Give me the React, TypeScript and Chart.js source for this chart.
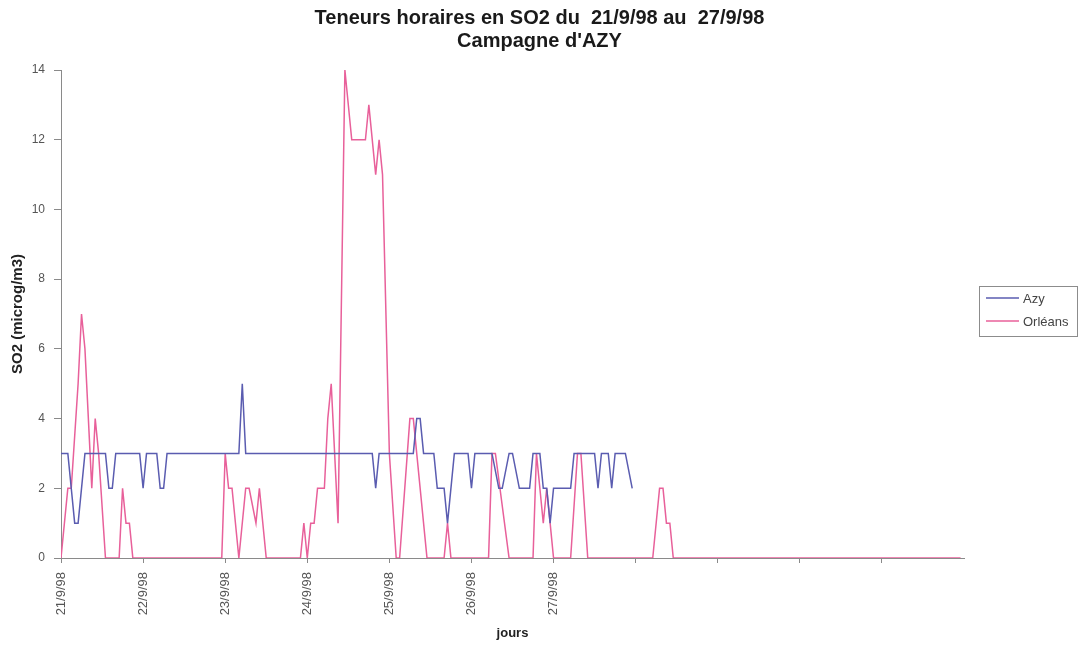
import React, { useEffect, useRef } from 'react';
import { Chart, registerables } from 'chart.js';

Chart.register(...registerables);

const FONT = '"Liberation Sans", Arial, Helvetica, sans-serif';

const titleLines = ['Teneurs horaires en SO2 du  21/9/98 au  27/9/98', "Campagne d'AZY"];
const yAxisTitle = 'SO2 (microg/m3)';
const xAxisTitle = 'jours';

// hours since 21/9/98 00h where each day tick sits
const dayTickHours = [0, 24, 48, 72, 96, 120, 144, 168, 192, 216, 240];
const dayLabels = ['21/9/98', '22/9/98', '23/9/98', '24/9/98', '25/9/98', '26/9/98', '27/9/98', '', '', '', ''];
const yTickValues = [0, 2, 4, 6, 8, 10, 12, 14];

// Azy series: hour index and value (microg/m3) at each vertex of the hourly record
const azyHours = [0, 2, 3, 4, 5, 7, 13, 14, 15, 16, 23, 24, 25, 28, 29, 30, 31, 52, 53, 54, 91, 92, 93, 103, 104, 105, 106, 109, 110, 112, 113, 115, 119, 120, 121, 126, 128, 129, 131, 132, 134, 137, 138, 140, 141, 142, 143, 144, 149, 150, 156, 157, 158, 160, 161, 162, 165, 167];
const azyValues = [3, 3, 2, 1, 1, 3, 3, 2, 2, 3, 3, 2, 3, 3, 2, 2, 3, 3, 5, 3, 3, 2, 3, 3, 4, 4, 3, 3, 2, 2, 1, 3, 3, 2, 3, 3, 2, 2, 3, 3, 2, 2, 3, 3, 2, 2, 1, 2, 2, 3, 3, 2, 3, 3, 2, 3, 3, 2];

// Orléans series
const orleansHours = [0, 2, 3, 5, 6, 7, 9, 10, 11, 13, 17, 18, 19, 20, 21, 47, 48, 49, 50, 52, 54, 55, 57, 58, 60, 70, 71, 72, 73, 74, 75, 77, 78, 79, 81, 83, 85, 89, 90, 92, 93, 94, 96, 98, 99, 102, 103, 107, 112, 113, 114, 125, 126, 127, 131, 138, 139, 140, 141, 142, 143, 144, 149, 151, 152, 154, 173, 175, 176, 177, 178, 179, 263];
const orleansValues = [0, 2, 2, 5, 7, 6, 2, 4, 3, 0, 0, 2, 1, 1, 0, 0, 3, 2, 2, 0, 2, 2, 1, 2, 0, 0, 1, 0, 1, 1, 2, 2, 4, 5, 1, 14, 12, 12, 13, 11, 12, 11, 3, 0, 0, 4, 4, 0, 0, 1, 0, 0, 3, 3, 0, 0, 3, 2, 1, 2, 1, 0, 0, 3, 3, 0, 0, 2, 2, 1, 1, 0, 0];

const seriesNames = ['Azy', 'Orléans'];
const seriesColors = ['#5a5cb0', '#e8609a'];

const toPoints = (xs: number[], ys: number[]) => xs.map((x, i) => ({ x, y: ys[i] }));

const legendBoxPlugin = {
  id: 'legendBox',
  afterDraw(chart: any) {
    const { ctx, chartArea } = chart;
    const w = 98;
    const h = 50;
    const x = Math.round(chartArea.right + 15);
    const y = Math.round((chartArea.top + chartArea.bottom) / 2 - h / 2 - 3);
    ctx.save();
    ctx.strokeStyle = '#8c8c8c';
    ctx.lineWidth = 1;
    ctx.strokeRect(x + 0.5, y + 0.5, w, h);
    chart.data.datasets.forEach((ds: any, i: number) => {
      const ly = y + 12 + i * 23;
      ctx.strokeStyle = ds.borderColor;
      ctx.lineWidth = 1.5;
      ctx.beginPath();
      ctx.moveTo(x + 7, ly);
      ctx.lineTo(x + 40, ly);
      ctx.stroke();
      ctx.fillStyle = '#444';
      ctx.font = '13px ' + FONT;
      ctx.textBaseline = 'middle';
      ctx.textAlign = 'left';
      ctx.fillText(ds.label, x + 44, ly + 1);
    });
    ctx.restore();
  },
};

export default function App() {
  const canvasRef = useRef<HTMLCanvasElement | null>(null);

  useEffect(() => {
    if (!canvasRef.current) return;
    const chart = new Chart(canvasRef.current, {
      type: 'line',
      data: {
        datasets: [
          {
            label: seriesNames[0],
            data: toPoints(azyHours, azyValues),
            borderColor: seriesColors[0],
            backgroundColor: seriesColors[0],
            borderWidth: 1.5,
            pointRadius: 0,
            tension: 0,
            fill: false,
          },
          {
            label: seriesNames[1],
            data: toPoints(orleansHours, orleansValues),
            borderColor: seriesColors[1],
            backgroundColor: seriesColors[1],
            borderWidth: 1.5,
            pointRadius: 0,
            tension: 0,
            fill: false,
          },
        ],
      },
      options: {
        responsive: false,
        animation: false,
        devicePixelRatio: 1,
        layout: { padding: 0 },
        plugins: {
          legend: { display: false },
          tooltip: { enabled: false },
          title: {
            display: true,
            text: titleLines,
            color: '#1a1a1a',
            font: { family: FONT, size: 20, weight: 'bold', lineHeight: 23 / 20 },
            padding: { top: 7, bottom: 17 },
          },
        },
        scales: {
          x: {
            type: 'linear',
            min: 0,
            max: 264,
            afterBuildTicks: (scale: any) => {
              scale.ticks = dayTickHours.map((v) => ({ value: v }));
            },
            afterFit: (scale: any) => {
              scale.height = 90;
            },
            grid: { display: true, drawOnChartArea: false, drawTicks: true, tickLength: 5, color: '#8a8a8a' },
            border: { display: true, color: '#8a8a8a' },
            ticks: {
              autoSkip: false,
              minRotation: 90,
              maxRotation: 90,
              padding: 9,
              color: '#555',
              font: { family: FONT, size: 13 },
              callback: (_v: any, i: number) => dayLabels[i] ?? '',
            },
            title: {
              display: true,
              text: xAxisTitle,
              color: '#222',
              font: { family: FONT, size: 13, weight: 'bold' },
              padding: { top: 0, bottom: 7 },
            },
          },
          y: {
            type: 'linear',
            min: 0,
            max: 14,
            afterBuildTicks: (scale: any) => {
              scale.ticks = yTickValues.map((v) => ({ value: v }));
            },
            afterFit: (scale: any) => {
              scale.width = 61;
            },
            grid: { display: true, drawOnChartArea: false, drawTicks: true, tickLength: 7, color: '#8a8a8a' },
            border: { display: true, color: '#8a8a8a' },
            ticks: {
              padding: 9,
              color: '#555',
              font: { family: FONT, size: 12 },
            },
            title: {
              display: true,
              text: yAxisTitle,
              color: '#222',
              font: { family: FONT, size: 15, weight: 'bold' },
              padding: { top: 9, bottom: 0 },
            },
          },
          legendSpace: {
            type: 'linear',
            position: 'right',
            display: true,
            grid: { display: false, drawTicks: false },
            border: { display: false },
            ticks: { display: false },
            afterFit: (scale: any) => {
              scale.width = 115;
            },
          },
        },
      } as any,
      plugins: [legendBoxPlugin],
    });
    return () => chart.destroy();
  }, []);

  return (
    <div style={{ position: 'absolute', left: 0, top: 0, width: 1079, height: 648, background: '#fff' }}>
      <canvas ref={canvasRef} width={1079} height={648} style={{ display: 'block' }} />
    </div>
  );
}
